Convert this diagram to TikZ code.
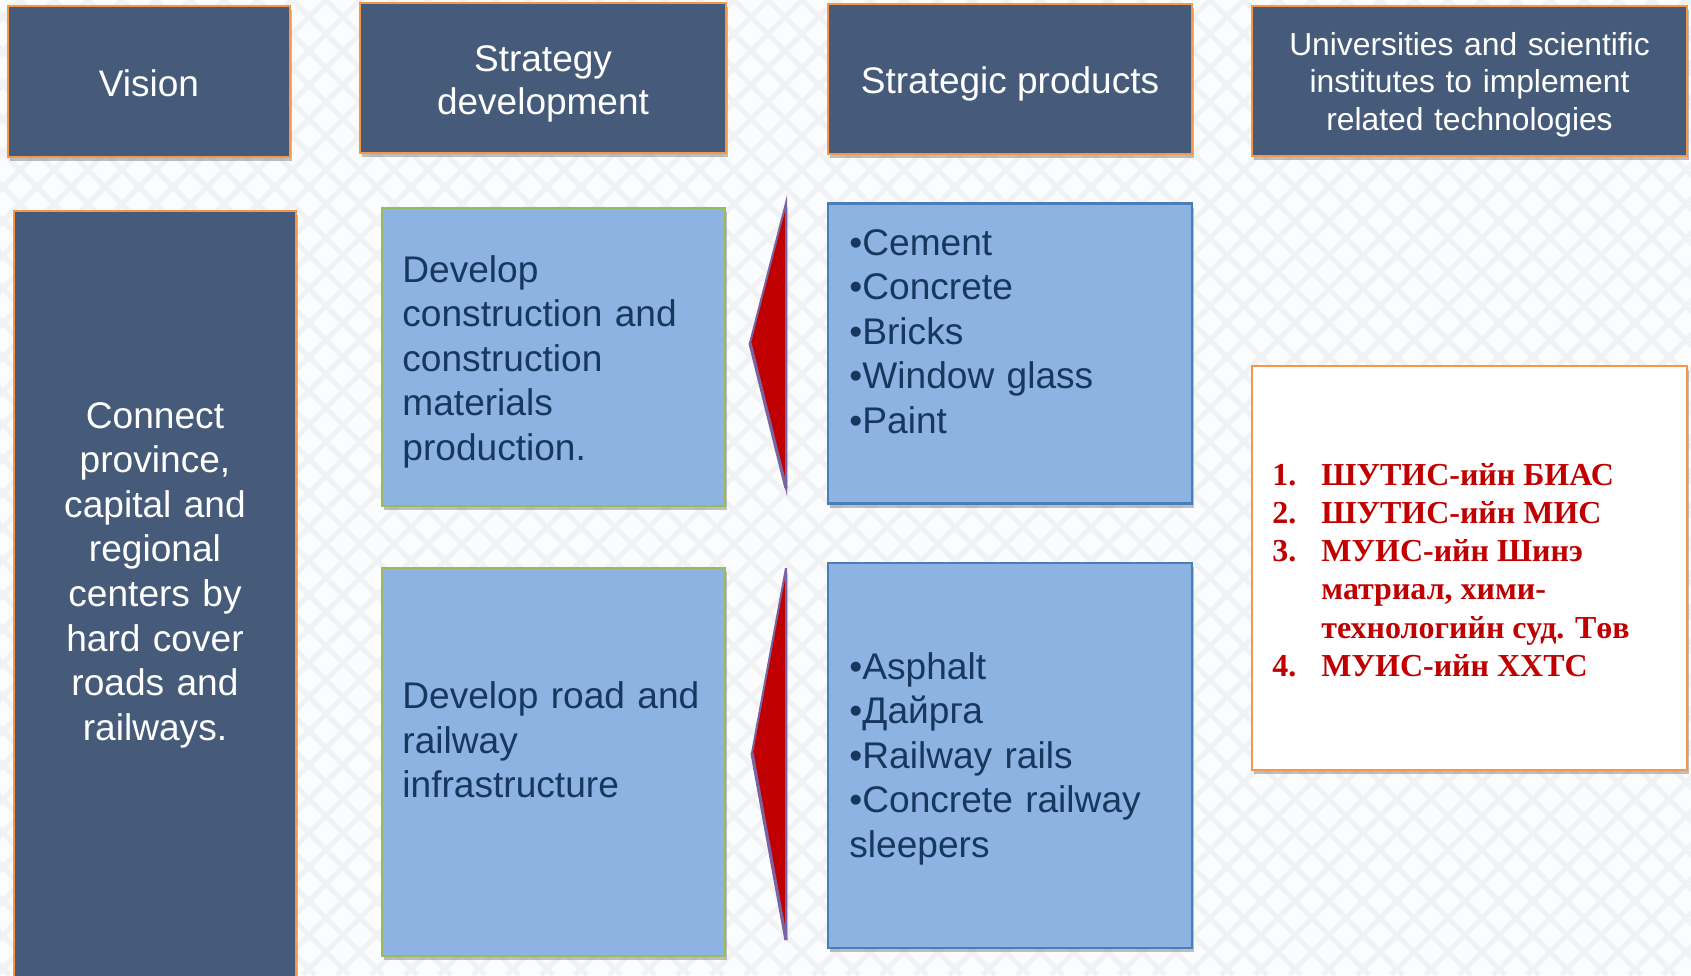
\documentclass[tikz,border=0pt]{standalone}
\usepackage{fontspec}
\setmainfont{Liberation Sans}
\newfontfamily\redserif{Liberation Serif}
\usetikzlibrary{shadows}
\definecolor{hdrfill}{HTML}{465B7A}
\definecolor{orangeb}{HTML}{F79646}
\definecolor{lblue}{HTML}{8DB3E2}
\definecolor{greenb}{HTML}{9BBB59}
\definecolor{blueb}{HTML}{4A7EBB}
\definecolor{navytext}{HTML}{17375E}
\definecolor{darkredc}{HTML}{C00000}
\definecolor{purpedge}{HTML}{7B62A0}
\definecolor{bgc}{HTML}{FBFCFD}
\definecolor{bgline}{HTML}{F0F2F4}
\newcommand\mybodyfont{\fontsize{18.55}{22.3}\selectfont}
\newcommand\myhdrfont{\fontsize{18.5}{21.5}\selectfont}
\newcommand\myunivfont{\fontsize{15.9}{18.9}\selectfont}
\begin{document}
\begin{tikzpicture}[x=0.5pt,y=-0.5pt,
  boxshadow/.style={drop shadow={shadow xshift=1.2pt,shadow yshift=-2pt,opacity=0.35,fill=black!70}},
  hdrbox/.style={rectangle,fill=hdrfill,draw=orangeb,line width=1.3pt,inner sep=0pt,boxshadow},
  devbox/.style={rectangle,fill=lblue,draw=greenb,line width=1.1pt,inner sep=0pt,boxshadow},
  prodbox/.style={rectangle,fill=lblue,draw=blueb,line width=1.1pt,inner sep=0pt,boxshadow},
  listbox/.style={rectangle,fill=white,draw=orangeb,line width=1.1pt,inner sep=0pt,boxshadow},
  whitetxt/.style={text=white,inner sep=0pt,align=center},
  navytxt/.style={text=navytext,inner sep=0pt,align=left,anchor=base west,font=\mybodyfont},
  wedge/.style={fill=darkredc,draw=purpedge,line width=1pt,line join=miter}]
% page and background
\useasboundingbox (0,0) rectangle (1691,975);
\fill[bgc] (0,0) rectangle (1691,975);
\begin{scope}
\clip (0,0) rectangle (1691,975);
\foreach \k in {-1000,-966,...,2700} {
  \draw[bgline,line width=2.5pt] (\k,0) -- ++(975,975);
  \draw[bgline,line width=2.5pt] (\k,0) -- ++(-975,975);
}
\end{scope}
% header boxes
\node[hdrbox,minimum width=141pt,minimum height=75.5pt] (hvis) at (149,81.5) {};
\node[hdrbox,minimum width=183pt,minimum height=75pt] (hstr) at (543,78) {};
\node[hdrbox,minimum width=182pt,minimum height=75pt] (hprod) at (1010,79) {};
\node[hdrbox,minimum width=217.5pt,minimum height=75pt] (huniv) at (1469.5,81) {};
\node[whitetxt,anchor=base,font=\myhdrfont] (tvis) at (149,96) {Vision};
\node[whitetxt,anchor=base,text width=180pt,font=\myhdrfont] (tstr) at (543,71) {Strategy\\development};
\node[whitetxt,anchor=base,font=\myhdrfont] (tprod) at (1010,93) {Strategic products};
\node[whitetxt,anchor=base,text width=215pt,font=\myunivfont] (tuniv) at (1469.5,55) {Universities and scientific\\institutes to implement\\related technologies};
% vision body
\node[hdrbox,minimum width=141pt,minimum height=400pt] (bvis) at (155,611) {};
\node[whitetxt,anchor=base,text width=140pt,font=\mybodyfont] (tbvis) at (155,428) {Connect\\province,\\capital and\\regional\\centers by\\hard cover\\roads and\\railways.};
% strategy boxes
\node[devbox,minimum width=171.5pt,minimum height=149pt] (dev1) at (553.5,357) {};
\node[devbox,minimum width=171.5pt,minimum height=194pt] (dev2) at (553.5,762) {};
\node[navytxt,text width=165pt] (tdev1) at (402,282) {Develop\\construction and\\construction\\materials\\production.};
\node[navytxt,text width=165pt] (tdev2) at (402,708.5) {Develop road and\\railway\\infrastructure};
% product boxes
\node[prodbox,minimum width=182pt,minimum height=150pt] (prod1) at (1010,353.5) {};
\node[prodbox,minimum width=182pt,minimum height=192.5pt] (prod2) at (1010,755.5) {};
\node[navytxt,text width=178pt] (tprod1) at (849,255) {•Cement\\•Concrete\\•Bricks\\•Window glass\\•Paint};
\node[navytxt,text width=178pt] (tprod2) at (849,679) {•Asphalt\\•Дайрга\\•Railway rails\\•Concrete railway\\sleepers};
% red wedges
\coordinate (w1t) at (786,203);
\coordinate (w1a) at (750,343);
\coordinate (w1b) at (786,488);
\coordinate (w2t) at (786,568);
\coordinate (w2a) at (752,753);
\coordinate (w2b) at (786,940);
\fill[black,opacity=0.18] ([xshift=1pt,yshift=-1.5pt]w1t) -- ([xshift=1pt,yshift=-1.5pt]w1a) -- ([xshift=1pt,yshift=-1.5pt]w1b) -- cycle;
\fill[black,opacity=0.18] ([xshift=1pt,yshift=-1.5pt]w2t) -- ([xshift=1pt,yshift=-1.5pt]w2a) -- ([xshift=1pt,yshift=-1.5pt]w2b) -- cycle;
\draw[wedge] (w1t) -- (w1a) -- (w1b) -- cycle;
\draw[wedge] (w2t) -- (w2a) -- (w2b) -- cycle;
\draw[purpedge,line width=1.6pt] (w1a) -- (w1b);
\draw[purpedge,line width=1.6pt] (w2a) -- (w2b);
% institutes list
\node[listbox,minimum width=217.5pt,minimum height=202pt] (ulist) at (1469.5,568) {};
\node[inner sep=0pt,anchor=base west,text=darkredc,font={\redserif\bfseries\fontsize{16}{19.15}\selectfont}] (tulist) at (1272,485) {%
\begin{tabular}[t]{@{}p{24.5pt}@{}l@{}}
1. & ШУТИС-ийн БИАС\\
2. & ШУТИС-ийн МИС\\
3. & МУИС-ийн Шинэ\\
   & матриал, хими-\\
   & технологийн суд. Төв\\
4. & МУИС-ийн ХХТС
\end{tabular}};
\end{tikzpicture}
\end{document}
